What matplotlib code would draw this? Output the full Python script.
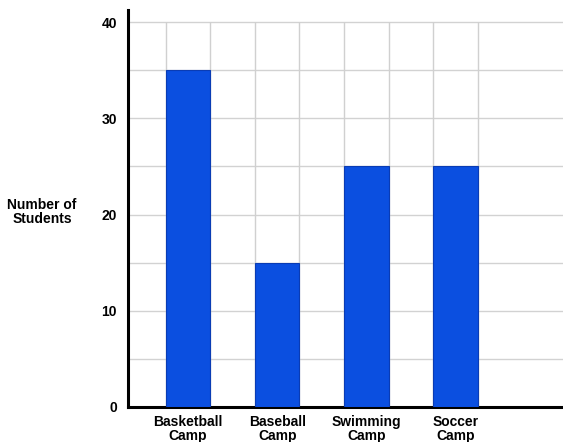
import matplotlib
matplotlib.use("Agg")
import matplotlib.pyplot as plt
import numpy as np

camps = ["Basketball\nCamp", "Baseball\nCamp", "Swimming\nCamp", "Soccer\nCamp"]
students = [35, 15, 25, 25]
y_ticks = [0, 10, 20, 30, 40]

plt.rcParams['font.family'] = ['Liberation Sans', 'DejaVu Sans']

fig = plt.figure(figsize=(5.63, 4.42), dpi=100)
ax = fig.add_axes([128 / 563, 35 / 442, 435 / 563, 397 / 442])

x = np.arange(len(camps))
ax.bar(x, students, width=0.5, color='#0b4fe0', edgecolor='#0a3cb4',
       linewidth=0.8, zorder=3)

ax.set_xlim(-0.67, 4.2)
ax.set_ylim(0, 41.25)

# light grid: horizontal every 5, vertical at bar edges up to the 40 line
for yv in np.arange(5, 41, 5):
    ax.axhline(yv, color='#d2d2d2', linewidth=1.0, zorder=1)
ax.vlines(np.arange(-0.25, 3.5, 0.5), 0, 40, color='#d0d0d0', linewidth=1.0,
          zorder=1)

ax.set_yticks(y_ticks)
ax.set_yticklabels([str(v) for v in y_ticks], fontsize=10, fontweight='bold')
ax.set_xticks(x)
ax.set_xticklabels(camps, fontsize=10, fontweight='bold', linespacing=0.95)
ax.tick_params(axis='both', length=0)
ax.tick_params(axis='y', pad=8)
ax.tick_params(axis='x', pad=6)

for side in ('top', 'right'):
    ax.spines[side].set_visible(False)
for side in ('left', 'bottom'):
    ax.spines[side].set_linewidth(2.2)
    ax.spines[side].set_color('black')

fig.text(42 / 563, 1 - 212 / 442, "Number of\nStudents", ha='center', va='center',
         fontsize=10, fontweight='bold', linespacing=1.0)

fig.savefig("out.png", dpi=100, facecolor='white')
